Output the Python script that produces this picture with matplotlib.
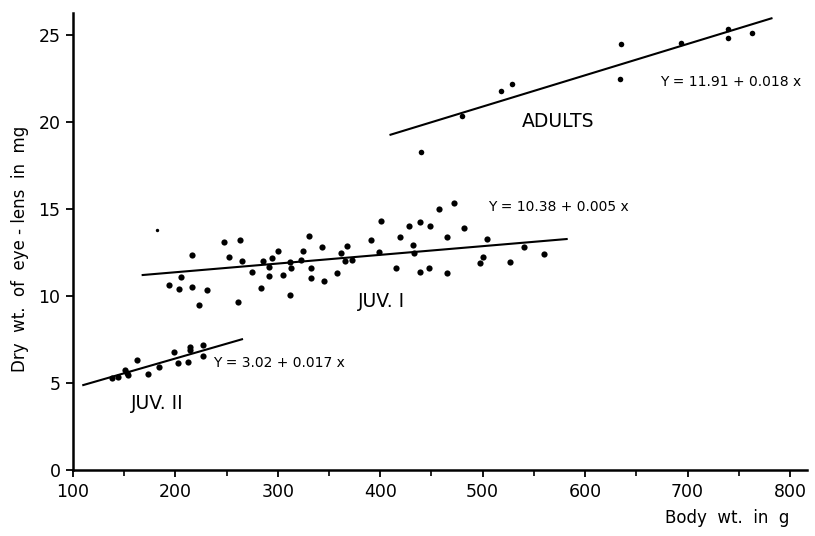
import matplotlib
matplotlib.use("Agg")
import matplotlib.pyplot as plt
import numpy as np

# ---- data ----
juv2_x = [137.8, 144.2, 150.8, 152.4, 154.0, 162.2, 173.0, 184.3, 198.6, 202.8,
          212.6, 214.3, 214.3, 227.2, 227.2]
juv2_y = [5.32, 5.37, 5.76, 5.60, 5.47, 6.34, 5.51, 5.92, 6.78, 6.15,
          6.24, 7.10, 6.91, 7.20, 6.58]

juv1_x = [193.8, 203.8, 205.5, 215.9, 215.9, 223.3, 231.2, 247.8, 252.3, 261.4,
          263.1, 265.3, 274.8, 283.3, 285.3, 291.7, 291.7, 294.6, 299.9, 305.4,
          311.9, 312.2, 312.9, 322.7, 324.6, 330.5, 332.1, 332.7, 343.2, 345.1,
          357.5, 361.4, 365.6, 367.9, 372.2, 391.0, 399.1, 400.5, 415.4, 419.6,
          428.4, 431.7, 433.0, 438.9, 438.9, 447.9, 448.6, 457.1, 464.9, 465.5,
          472.4, 481.8, 497.8, 500.7, 504.3, 527.1, 540.7, 559.7]
juv1_y = [10.66, 10.41, 11.10, 12.38, 10.52, 9.50, 10.33, 13.13, 12.27, 9.66,
          13.25, 12.02, 11.41, 10.47, 12.00, 11.16, 11.68, 12.19, 12.63, 11.22,
          11.98, 10.06, 11.65, 12.10, 12.60, 13.46, 11.60, 11.04, 12.81, 10.85,
          11.31, 12.50, 12.04, 12.89, 12.06, 13.25, 12.52, 14.34, 11.62, 13.38,
          14.02, 12.96, 12.48, 14.25, 11.42, 11.65, 14.06, 15.03, 13.40, 11.33,
          15.36, 13.92, 11.94, 12.25, 13.31, 11.96, 12.85, 12.44]
stray_x = [182.3]
stray_y = [13.82]

adult_x = [439.5, 480.2, 517.7, 529.0, 634.2, 635.2, 693.8, 739.9, 739.9, 763.4]
adult_y = [18.28, 20.37, 21.83, 22.19, 22.47, 24.52, 24.56, 25.40, 24.84, 25.12]

# regression lines: intercept, slope, x-range
juv2_fit = (3.02, 0.017, 110, 265)
juv1_fit = (10.38, 0.005, 168, 582)
adult_fit = (11.91, 0.018, 410, 782)

x_ticks = [100, 200, 300, 400, 500, 600, 700, 800]
y_ticks = [0, 5, 10, 15, 20, 25]

# ---- figure ----
plt.rcParams['font.family'] = ['DejaVu Sans']
fig = plt.figure(figsize=(8.15, 5.36), dpi=100)
ax = fig.add_axes([0.0896, 0.123, 0.901, 0.853])

dot = dict(color='black', s=20, linewidths=0, zorder=3)
ax.scatter(juv2_x, juv2_y, **dot)
ax.scatter(juv1_x, juv1_y, **dot)
ax.scatter(stray_x, stray_y, color='black', s=6, linewidths=0, zorder=3)
ax.scatter(adult_x, adult_y, color='black', s=16, linewidths=0, zorder=3)

for a, b, x0, x1 in (juv2_fit, juv1_fit, adult_fit):
    xs = np.array([x0, x1])
    ax.plot(xs, a + b * xs, color='black', lw=1.5, zorder=2)

txt = dict(color='black', fontsize=10, va='center', ha='left')
ax.text(237, 6.15, "Y = 3.02 + 0.017 x", **txt)
ax.text(505, 15.15, "Y = 10.38 + 0.005 x", **txt)
ax.text(673, 22.35, "Y = 11.91 + 0.018 x", **txt)
lab = dict(color='black', fontsize=13.5, va='center', ha='left')
ax.text(157, 3.84, "JUV. II", **lab)
ax.text(378, 9.7, "JUV. I", **lab)
ax.text(538, 20.06, "ADULTS", **lab)

ax.set_xlim(100, 817)
ax.set_ylim(0, 26.3)
ax.set_xticks(x_ticks)
ax.set_xticks(np.arange(150, 800, 100), minor=True)
ax.set_yticks(y_ticks)
ax.tick_params(axis='both', which='major', direction='out', length=5, width=1.3,
               labelsize=12.5, colors='black', pad=4)
ax.tick_params(axis='x', which='minor', direction='out', length=4, width=1.2)
for s in ('top', 'right'):
    ax.spines[s].set_visible(False)
for s in ('left', 'bottom'):
    ax.spines[s].set_linewidth(1.8)

fig.text(0.968, 0.034, "Body  wt.  in  g", fontsize=12, ha='right', va='center')
fig.text(0.024, 0.535, "Dry  wt.  of  eye - lens  in  mg", fontsize=12,
         rotation=90, ha='center', va='center')

fig.savefig("out.png", dpi=100)
